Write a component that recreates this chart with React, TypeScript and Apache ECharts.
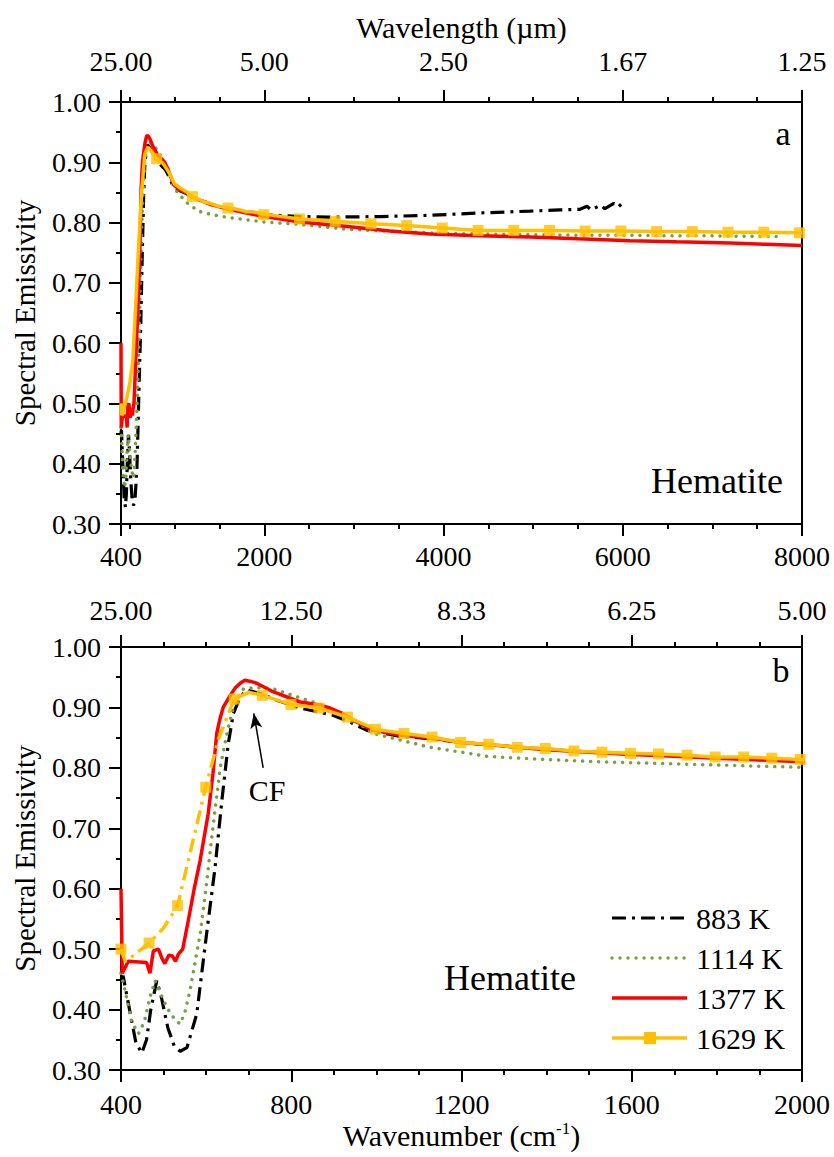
import React, { useEffect, useRef } from 'react';
import * as echarts from 'echarts';

const FONT = "'Liberation Serif', 'Times New Roman', serif";

const seriesNames = ['883 K', '1114 K', '1377 K', '1629 K'];
const seriesColors = ['#000000', '#77a043', '#ff0000', '#ffc000'];

// Wavenumber (cm-1), emissivity
const em883: [number, number][] = [
  [400, 0.45], [405, 0.456], [420, 0.40], [435, 0.345], [449, 0.328], [460, 0.35], [470, 0.40],
  [484, 0.448], [495, 0.42], [510, 0.37], [525, 0.34], [539, 0.331], [555, 0.337], [578, 0.393],
  [601, 0.525], [621, 0.635], [637, 0.746], [652, 0.84], [664, 0.89], [680, 0.917], [696, 0.929],
  [727, 0.923], [766, 0.912], [821, 0.899], [898, 0.887], [940, 0.875], [978, 0.862], [1050, 0.853],
  [1130, 0.848], [1200, 0.842], [1300, 0.836], [1400, 0.831], [1500, 0.826], [1600, 0.823],
  [1700, 0.82], [1800, 0.817], [1900, 0.815], [2000, 0.813], [2400, 0.81], [2733, 0.809],
  [3300, 0.81], [3848, 0.812], [4400, 0.816], [4964, 0.819], [5300, 0.821], [5522, 0.822],
  [5600, 0.827], [5650, 0.821], [5750, 0.829], [5800, 0.823], [5900, 0.832], [5950, 0.826], [6000, 0.833],
];

const em1114: [number, number][] = [
  [400, 0.46], [410, 0.43], [425, 0.38], [441, 0.36], [455, 0.38], [468, 0.42], [480, 0.448],
  [494, 0.425], [508, 0.403], [525, 0.385], [539, 0.376], [550, 0.395], [562, 0.431], [586, 0.525],
  [601, 0.609], [617, 0.708], [633, 0.80], [649, 0.857], [664, 0.90], [688, 0.931], [719, 0.933],
  [757, 0.931], [790, 0.923], [860, 0.907], [930, 0.887], [993, 0.857], [1056, 0.846], [1126, 0.834],
  [1200, 0.826], [1260, 0.819], [1392, 0.814], [1525, 0.81], [1729, 0.806], [1995, 0.801],
  [2398, 0.797], [2919, 0.789], [3500, 0.785], [4000, 0.782], [4500, 0.781], [5000, 0.78],
  [5500, 0.779], [6000, 0.779], [6500, 0.778], [7000, 0.778], [7500, 0.777], [7790, 0.777],
];

const em1377: [number, number][] = [
  [400, 0.60], [403, 0.46], [417, 0.48], [460, 0.478], [468, 0.46], [476, 0.497], [488, 0.50],
  [496, 0.485], [503, 0.476], [512, 0.49], [520, 0.489], [528, 0.48], [535, 0.492], [545, 0.50],
  [558, 0.547], [572, 0.60], [586, 0.647], [605, 0.725], [616, 0.79], [625, 0.857], [632, 0.88],
  [640, 0.90], [655, 0.918], [668, 0.932], [680, 0.94], [691, 0.945], [705, 0.943], [719, 0.94],
  [757, 0.926], [821, 0.909], [860, 0.905], [891, 0.899], [920, 0.89], [946, 0.879], [993, 0.862],
  [1056, 0.854], [1134, 0.849], [1200, 0.842], [1300, 0.836], [1400, 0.83], [1500, 0.826],
  [1600, 0.822], [1700, 0.819], [1800, 0.816], [1900, 0.813], [2000, 0.81], [2400, 0.801],
  [2900, 0.794], [3400, 0.786], [3848, 0.781], [4400, 0.778], [4964, 0.776], [5500, 0.773],
  [6080, 0.77], [6600, 0.768], [7196, 0.766], [7600, 0.764], [8000, 0.762],
];

const em1629Rise: [number, number][] = [
  [410, 0.48], [430, 0.49], [500, 0.535], [566, 0.67], [630, 0.85], [700, 0.925],
];
// 1629 K markers as drawn in panel b (dense) and panel a (sparse)
const marks1629Fine: [number, number][] = [
  [400, 0.50], [466, 0.51], [533, 0.572], [599, 0.768], [666, 0.914], [732, 0.92], [799, 0.905],
  [865, 0.899], [932, 0.884], [998, 0.864], [1065, 0.857], [1131, 0.851], [1198, 0.842],
  [1264, 0.839], [1331, 0.834], [1397, 0.832], [1464, 0.828], [1530, 0.826], [1597, 0.824],
  [1663, 0.823], [1730, 0.821], [1796, 0.818], [1863, 0.818], [1929, 0.816], [1996, 0.814],
];
const marks1629Coarse: [number, number][] = [
  [798, 0.906], [1197, 0.843], [1595, 0.824], [1994, 0.813], [2392, 0.806], [2791, 0.802],
  [3189, 0.798], [3588, 0.795], [3986, 0.791], [4385, 0.787], [4783, 0.787], [5182, 0.787],
  [5580, 0.786], [5979, 0.786], [6377, 0.785], [6776, 0.785], [7174, 0.784], [7573, 0.784],
  [7971, 0.783],
];
const em1629: [number, number][] = [
  ...em1629Rise,
  ...marks1629Fine,
  ...marks1629Coarse.filter((p) => p[0] > 2000),
  [8000, 0.783],
].sort((a, b) => a[0] - b[0]) as [number, number][];

// in panel b the 1629 K rise (up to the CF peak) is drawn dash-dotted
const rise1629End = 666;

const topMajorTicks = [400, 2000, 4000, 6000, 8000];
const topMinorTicks = [500, 1000, 1500, 2500, 3000, 3500, 4500, 5000, 5500, 6500, 7000, 7500];

// CF annotation arrow (wavenumber, emissivity)
const cfArrowFrom: [number, number] = [734, 0.80];
const cfArrowTo: [number, number] = [712, 0.89];

const DASHDOT = [14, 6, 3, 6];
const DOT = [0.01, 8];
const lineDashes: (number[] | null)[] = [DASHDOT, DOT, null, null];
const lineWidths = [3.2, 3.5, 3.5, 3.5];

const axisColor = '#000';
const tickLabel = { color: '#000', fontSize: 28, fontFamily: FONT };

function lineSeries(xi: number, yi: number, i: number, data: [number, number][], dash: number[] | null, z: number) {
  return {
    type: 'line',
    name: seriesNames[i],
    xAxisIndex: xi,
    yAxisIndex: yi,
    data,
    symbol: 'none',
    clip: true,
    z,
    lineStyle: {
      color: seriesColors[i],
      width: lineWidths[i],
      type: dash ? dash : 'solid',
      cap: dash === DOT ? 'round' : 'butt',
    },
  };
}

function panelSeries(xi: number, yi: number, coarse: boolean) {
  const datasets = [em883, em1114, em1377];
  const s: any[] = datasets.map((d, i) => lineSeries(xi, yi, i, d, lineDashes[i], 2 + i));
  if (coarse) {
    s.push(lineSeries(xi, yi, 3, em1629, null, 5));
  } else {
    s.push(lineSeries(xi, yi, 3, em1629.filter((p) => p[0] <= rise1629End), DASHDOT, 5));
    s.push(lineSeries(xi, yi, 3, em1629.filter((p) => p[0] >= rise1629End), null, 5));
  }
  s.push({
    type: 'scatter',
    name: '1629 K markers',
    xAxisIndex: xi,
    yAxisIndex: yi,
    data: coarse ? marks1629Coarse : marks1629Fine,
    symbol: 'rect',
    symbolSize: 11,
    itemStyle: { color: seriesColors[3] },
    z: 10,
    clip: true,
    markLine: coarse
      ? undefined
      : {
          silent: true,
          symbol: ['none', 'arrow'],
          symbolSize: [9, 15],
          label: { show: false },
          lineStyle: { color: '#000', width: 1.5, type: 'solid' },
          data: [[{ coord: cfArrowFrom }, { coord: cfArrowTo }]],
        },
  });
  return s;
}

function yAxisCfg(gi: number) {
  return {
    type: 'value',
    gridIndex: gi,
    min: 0.3,
    max: 1.0,
    interval: 0.1,
    name: 'Spectral Emissivity',
    nameLocation: 'middle',
    nameGap: 82,
    nameTextStyle: { color: '#000', fontSize: 29, fontFamily: FONT },
    axisLine: { show: true, lineStyle: { color: axisColor, width: 2 } },
    axisTick: { show: true, inside: false, length: 12, lineStyle: { color: axisColor, width: 2 } },
    minorTick: { show: true, splitNumber: 2, length: 5, lineStyle: { color: axisColor, width: 2 } },
    splitLine: { show: false },
    axisLabel: { ...tickLabel, margin: 20, formatter: (v: number) => v.toFixed(2) },
  };
}

const wl = (v: number) => (10000 / v).toFixed(2);
const plain = (v: number) => String(v);

const option: any = {
  animation: false,
  backgroundColor: '#fff',
  grid: [
    { left: 121, top: 102, width: 681, height: 422, show: true, borderColor: '#000', borderWidth: 2, backgroundColor: 'transparent' },
    { left: 121, top: 647, width: 681, height: 423, show: true, borderColor: '#000', borderWidth: 2, backgroundColor: 'transparent' },
  ],
  xAxis: [
    {
      type: 'value', gridIndex: 0, position: 'bottom', min: 400, max: 8000,
      axisLine: { show: true, lineStyle: { color: axisColor, width: 2 } },
      axisTick: { show: true, length: 12, customValues: topMajorTicks, lineStyle: { color: axisColor, width: 2 } },
      axisLabel: { ...tickLabel, margin: 18, customValues: topMajorTicks, formatter: plain },
      splitLine: { show: false },
    },
    {
      type: 'value', gridIndex: 0, position: 'bottom', min: 400, max: 8000,
      axisLine: { show: false },
      axisTick: { show: true, length: 5, customValues: topMinorTicks, lineStyle: { color: axisColor, width: 2 } },
      axisLabel: { show: false },
      splitLine: { show: false },
    },
    {
      type: 'value', gridIndex: 0, position: 'top', min: 400, max: 8000,
      name: 'Wavelength (µm)', nameLocation: 'middle', nameGap: 60,
      nameTextStyle: { color: '#000', fontSize: 30, fontFamily: FONT },
      axisLine: { show: true, lineStyle: { color: axisColor, width: 2 } },
      axisTick: { show: true, length: 12, customValues: topMajorTicks, lineStyle: { color: axisColor, width: 2 } },
      axisLabel: { ...tickLabel, margin: 27, customValues: topMajorTicks, formatter: wl },
      splitLine: { show: false },
    },
    {
      type: 'value', gridIndex: 0, position: 'top', min: 400, max: 8000,
      axisLine: { show: false },
      axisTick: { show: true, length: 5, customValues: topMinorTicks, lineStyle: { color: axisColor, width: 2 } },
      axisLabel: { show: false },
      splitLine: { show: false },
    },
    {
      type: 'value', gridIndex: 1, position: 'bottom', min: 400, max: 2000, interval: 400,
      name: 'Wavenumber (cm{sup|-1})', nameLocation: 'middle', nameGap: 50,
      nameTextStyle: {
        color: '#000', fontSize: 30, fontFamily: FONT,
        rich: { sup: { fontSize: 17, fontFamily: FONT, color: '#000', verticalAlign: 'top', lineHeight: 30 } },
      },
      axisLine: { show: true, lineStyle: { color: axisColor, width: 2 } },
      axisTick: { show: true, length: 12, lineStyle: { color: axisColor, width: 2 } },
      minorTick: { show: true, splitNumber: 4, length: 5, lineStyle: { color: axisColor, width: 2 } },
      axisLabel: { ...tickLabel, margin: 20, formatter: plain },
      splitLine: { show: false },
    },
    {
      type: 'value', gridIndex: 1, position: 'top', min: 400, max: 2000, interval: 400,
      axisLine: { show: true, lineStyle: { color: axisColor, width: 2 } },
      axisTick: { show: true, length: 12, lineStyle: { color: axisColor, width: 2 } },
      minorTick: { show: true, splitNumber: 4, length: 5, lineStyle: { color: axisColor, width: 2 } },
      axisLabel: { ...tickLabel, margin: 23, formatter: wl },
      splitLine: { show: false },
    },
  ],
  yAxis: [yAxisCfg(0), yAxisCfg(1)],
  series: [...panelSeries(0, 0, true), ...panelSeries(4, 1, false)],
  graphic: [] as any[],
};

const legendX1 = 612;
const legendX2 = 687;
const legendTextX = 696;
const legendRowY = [918, 958, 998, 1038];

seriesNames.forEach((n, i) => {
  const y = legendRowY[i];
  option.graphic.push({
    type: 'line',
    shape: { x1: legendX1, y1: y, x2: legendX2, y2: y },
    style: {
      stroke: seriesColors[i],
      lineWidth: lineWidths[i],
      lineDash: lineDashes[i] || undefined,
      lineCap: lineDashes[i] === DOT ? 'round' : 'butt',
    },
    z: 100,
  });
  if (i === 3) {
    option.graphic.push({
      type: 'rect',
      shape: { x: 644, y: y - 6, width: 12, height: 12 },
      style: { fill: seriesColors[3] },
      z: 101,
    });
  }
  option.graphic.push({
    type: 'text',
    x: legendTextX,
    y,
    style: { text: n, fontSize: 30, fontFamily: FONT, fill: '#000', align: 'left', verticalAlign: 'middle' },
    z: 100,
  });
});

const annotations = [
  { text: 'a', x: 783, y: 133, size: 34 },
  { text: 'b', x: 781, y: 670, size: 34 },
  { text: 'Hematite', x: 717, y: 481, size: 36 },
  { text: 'Hematite', x: 510, y: 978, size: 36 },
  { text: 'CF', x: 267, y: 790, size: 30 },
];
annotations.forEach((a) => {
  option.graphic.push({
    type: 'text',
    x: a.x,
    y: a.y,
    style: { text: a.text, fontSize: a.size, fontFamily: FONT, fill: '#000', align: 'center', verticalAlign: 'middle' },
    z: 100,
  });
});

export default function App() {
  const ref = useRef<HTMLDivElement>(null);
  useEffect(() => {
    document.body.style.margin = '0';
    const chart = echarts.init(ref.current!, null, { renderer: 'svg' });
    chart.setOption(option);
    return () => chart.dispose();
  }, []);
  return <div ref={ref} style={{ width: 834, height: 1157, background: '#fff' }} />;
}
